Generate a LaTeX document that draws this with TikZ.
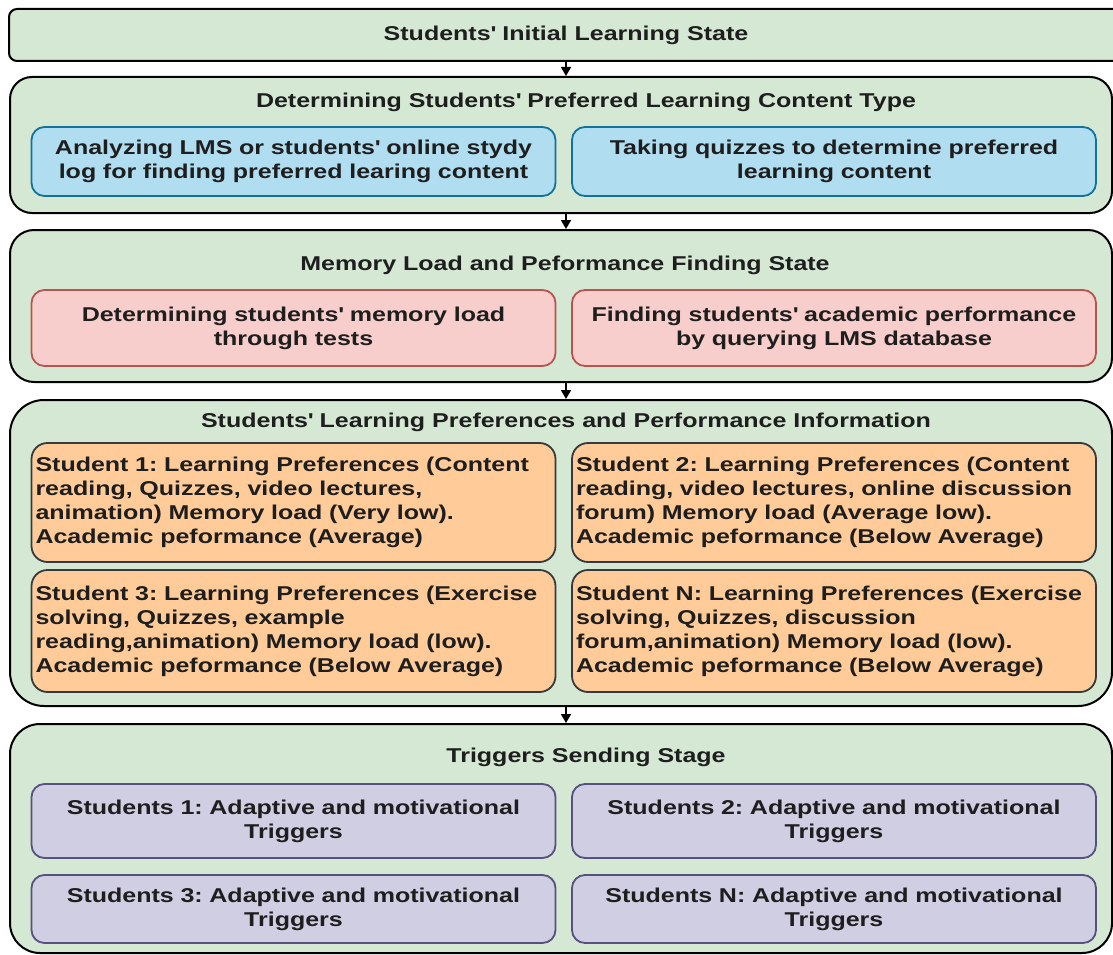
\documentclass[tikz,border=0pt]{standalone}
\usepackage{fontspec}
\setmainfont{Liberation Sans}[FakeStretch=1.25]
\usetikzlibrary{arrows.meta}
\frenchspacing

\definecolor{stagefill}{HTML}{D5E8D4}
\definecolor{bluefill}{HTML}{B1DDF0}
\definecolor{bluedraw}{HTML}{10739E}
\definecolor{redfill}{HTML}{F8CECC}
\definecolor{reddraw}{HTML}{B85450}
\definecolor{orangefill}{HTML}{FFCC99}
\definecolor{orangedraw}{HTML}{36393D}
\definecolor{purplefill}{HTML}{D0CEE2}
\definecolor{purpledraw}{HTML}{56517E}
\definecolor{inktext}{HTML}{1E1E1E}
\newcommand{\ap}{\textquotesingle}

\begin{document}
\begin{tikzpicture}[x=1pt, y=-1pt, thick,
    font=\fontsize{20}{24}\selectfont\bfseries, text=inktext,
    stage/.style={draw=black, line width=2pt, fill=stagefill, inner sep=0pt},
    inbox/.style={line width=1.8pt, rounded corners=13pt, inner sep=4pt,
        minimum width=524pt, text width=516pt},
    content/.style={inbox, draw=bluedraw, fill=bluefill, align=center},
    memory/.style={inbox, draw=reddraw, fill=redfill, align=center},
    profile/.style={inbox, draw=orangedraw, fill=orangefill, align=left},
    trigger/.style={inbox, draw=purpledraw, fill=purplefill, align=center},
    flow/.style={line width=1.6pt, -{Triangle[length=9pt, width=10pt]}}]

    \useasboundingbox (0,0) rectangle (1113,955);

    \node[stage, rounded corners=8pt, minimum width=1114pt, minimum height=52pt] at (566,35) (init) {Students\ap{} Initial Learning State};

    \node[stage, rounded corners=22pt, minimum width=1102pt, minimum height=136pt] at (561,145) (pref) {};
    \node at (586,102) (preftitle) {Determining Students\ap{} Preferred Learning Content Type};
    \node[content, minimum height=69pt] at (293.5,161.5) (logs) {Analyzing LMS or students\ap{} online stydy\\log for finding preferred learing content};
    \node[content, minimum height=69pt] at (834,161.5) (quiz) {Taking quizzes to determine preferred\\learning content};

    \node[stage, rounded corners=24pt, minimum width=1102pt, minimum height=152pt] at (561,306) (mem) {};
    \node at (565,265) (memtitle) {Memory Load and Peformance Finding State};
    \node[memory, minimum height=76pt] at (293.5,328) (load) {Determining students\ap{} memory load\\through tests};
    \node[memory, minimum height=76pt] at (834,328) (perf) {Finding students\ap{} academic performance\\by querying LMS database};

    \node[stage, rounded corners=34pt, minimum width=1102pt, minimum height=306pt] at (561,553) (info) {};
    \node at (566,422) (infotitle) {Students\ap{} Learning Preferences and Performance Information};
    \node[profile, rounded corners=16pt, minimum height=119pt] at (293.5,502.5) (st1) {Student 1: Learning Preferences (Content\\reading, Quizzes, video lectures,\\animation) Memory load (Very low).\\Academic peformance (Average)};
    \node[profile, rounded corners=16pt, minimum height=119pt] at (834,502.5) (st2) {Student 2: Learning Preferences (Content\\reading, video lectures, online discussion\\forum) Memory load (Average low).\\Academic peformance (Below Average)};
    \node[profile, rounded corners=16pt, minimum height=122pt] at (293.5,631) (st3) {Student 3: Learning Preferences (Exercise\\solving, Quizzes, example\\reading,animation) Memory load (low).\\Academic peformance (Below Average)};
    \node[profile, rounded corners=16pt, minimum height=122pt] at (834,631) (stn) {Student N: Learning Preferences (Exercise\\solving, Quizzes, discussion\\forum,animation) Memory load (low).\\Academic peformance (Below Average)};

    \node[stage, rounded corners=30pt, minimum width=1102pt, minimum height=229pt] at (561,838.5) (trig) {};
    \node at (586,757) (trigtitle) {Triggers Sending Stage};
    \node[trigger, minimum height=74pt] at (293.5,821) (tr1) {Students 1: Adaptive and motivational\\Triggers};
    \node[trigger, minimum height=74pt] at (834,821) (tr2) {Students 2: Adaptive and motivational\\Triggers};
    \node[trigger, minimum height=68pt] at (293.5,909) (tr3) {Students 3: Adaptive and motivational\\Triggers};
    \node[trigger, minimum height=68pt] at (834,909) (trn) {Students N: Adaptive and motivational\\Triggers};

    \draw[flow] (init.south) -- (init.south |- pref.north);
    \draw[flow] (pref.south -| init.south) -- (init.south |- mem.north);
    \draw[flow] (mem.south -| init.south) -- (init.south |- info.north);
    \draw[flow] (info.south -| init.south) -- (init.south |- trig.north);
\end{tikzpicture}
\end{document}
